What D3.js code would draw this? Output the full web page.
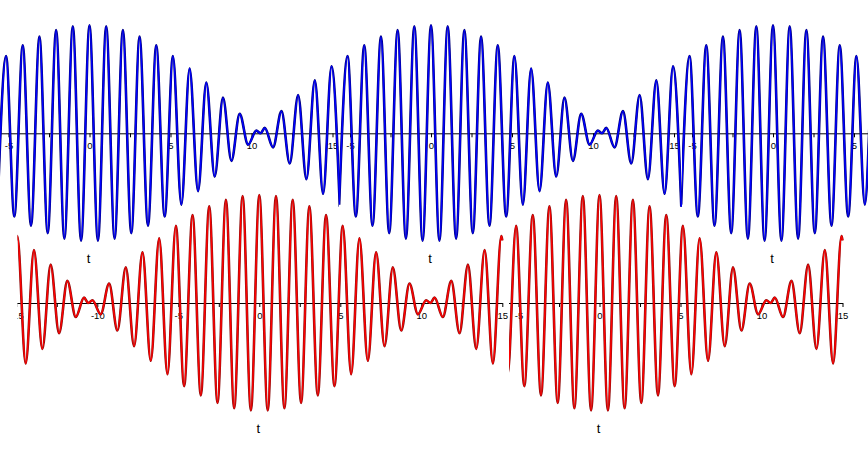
<!DOCTYPE html>
<html><head><meta charset="utf-8">
<script src="https://cdn.jsdelivr.net/npm/d3@7"></script>
<style>html,body{margin:0;padding:0;background:#fff;} svg{display:block;}</style>
</head><body>
<script>
// Extrema (t, value) of the beat signal
const blueT = [-5.67,-5.15,-4.64,-4.12,-3.61,-3.09,-2.58,-2.06,-1.55,-1.03,-0.52,0,
  0.52,1.03,1.55,2.06,2.58,3.09,3.61,4.12,4.64,5.15,5.67,6.18,6.70,7.21,7.73,8.24,
  8.76,9.27,9.79,10.30,10.56,10.82,11.33,11.85,12.36,12.88,13.39,13.91,14.42,14.94,15.45];
const blueV = [-1.32,1.43,-1.54,1.63,-1.71,1.79,-1.85,1.91,-1.95,1.98,-1.99,2.00,
  -1.99,1.98,-1.95,1.91,-1.85,1.79,-1.71,1.63,-1.54,1.43,-1.32,1.20,-1.07,0.94,-0.80,0.66,
  -0.51,0.36,-0.21,0.05,0.00,0.10,-0.26,0.41,-0.56,0.71,-0.85,0.98,-1.12,1.24,-1.36];

const redT = [-15,-14.94,-14.42,-13.91,-13.39,-12.88,-12.36,-11.85,-11.33,-10.82,-10.56,-10.30,
  -9.79,-9.27,-8.76,-8.24,-7.73,-7.21,-6.70,-6.18,-5.67,-5.15,-4.64,-4.12,-3.61,-3.09,-2.58,
  -2.06,-1.55,-1.03,-0.52,0,0.52,1.03,1.55,2.06,2.58,3.09,3.61,4.12,4.64,5.15,5.67,6.18,6.70,
  7.21,7.73,8.24,8.76,9.27,9.79,10.30,10.56,10.82,11.33,11.85,12.36,12.88,13.39,13.91,14.42,14.94,15];
const redV = [1.16,1.24,-1.12,0.98,-0.85,0.71,-0.56,0.41,-0.26,0.10,0.00,0.05,
  -0.21,0.36,-0.51,0.66,-0.80,0.94,-1.07,1.20,-1.32,1.43,-1.54,1.63,-1.71,1.79,-1.85,
  1.91,-1.95,1.98,-1.99,2.00,-1.99,1.98,-1.95,1.91,-1.85,1.79,-1.71,1.63,-1.54,1.43,-1.32,1.20,-1.07,
  0.94,-0.80,0.66,-0.51,0.36,-0.21,0.05,0.00,0.10,-0.26,0.41,-0.56,0.71,-0.85,0.98,-1.12,1.24,1.16];

const blueTicks = [-5,-2.5,0,2.5,5,7.5,10,12.5,15];
const redTicks = [-15,-12.5,-10,-7.5,-5,-2.5,0,2.5,5,7.5,10,12.5,15];
const labelEvery = 5;
const axisTitle = "t";

const W = 868, H = 461;
const PX = 16.2, AMP = 54;

const svg = d3.select("body").append("svg").attr("width", W).attr("height", H);
svg.append("rect").attr("width", W).attr("height", H).attr("fill", "#fff");

const panels = [
  {T: blueT, V: blueV, ticks: blueTicks, dom: [-5.75, 15.5], zero: 89.5, axisY: 133.3, clip: [0, 339], c1: "#00007a", c2: "#0000ff"},
  {T: blueT, V: blueV, ticks: blueTicks, dom: [-5.75, 15.5], zero: 431, axisY: 133.3, clip: [339, 682], c1: "#00007a", c2: "#0000ff"},
  {T: blueT, V: blueV, ticks: blueTicks, dom: [-5.75, 15.5], zero: 773, axisY: 133.3, clip: [682, 868], c1: "#00007a", c2: "#0000ff"},
  {T: redT, V: redV, ticks: redTicks, dom: [-15, 15], zero: 259.3, axisY: 303, clip: [17.5, 509], c1: "#8a1010", c2: "#ff0000"},
  {T: redT, V: redV, ticks: redTicks, dom: [-15, 15], zero: 599.5, axisY: 303, clip: [509, 868], c1: "#8a1010", c2: "#ff0000"}
];

const defs = svg.append("defs");
panels.forEach((p, i) => {
  defs.append("clipPath").attr("id", "cp" + i)
    .append("rect").attr("x", p.clip[0]).attr("y", 0)
    .attr("width", p.clip[1] - p.clip[0]).attr("height", H);

  const x = d3.scaleLinear().domain(p.dom)
    .range([p.zero + p.dom[0] * PX, p.zero + p.dom[1] * PX]);
  const y = d3.scaleLinear().domain([-2, 2]).range([p.axisY + 2 * AMP, p.axisY - 2 * AMP]);

  // only ticks whose label can show in the visible part of the panel
  const visTicks = p.ticks.filter(v => x(v) >= p.clip[0] - 8 && x(v) <= p.clip[1] + 2);

  const g = svg.append("g").attr("clip-path", `url(#cp${i})`);

  const axis = d3.axisBottom(x).tickValues(visTicks).tickSize(4).tickSizeOuter(0).tickPadding(5)
    .tickFormat(d => (d % labelEvery === 0) ? String(d) : "");
  const ag = g.append("g").attr("transform", `translate(0,${p.axisY})`).call(axis);
  ag.select(".domain").attr("stroke", "#000").attr("stroke-width", 1);
  ag.selectAll(".tick line").attr("stroke", "#000");
  ag.selectAll(".tick text").filter(function() { return this.textContent === ""; }).remove();
  ag.selectAll(".tick text").attr("fill", "#000")
    .style("font-family", "'Liberation Sans', Arial, sans-serif").style("font-size", "9.5px");

  const data = p.T.map((t, j) => [t, p.V[j]]);
  const line = d3.line().x(d => x(d[0])).y(d => y(d[1])).curve(d3.curveMonotoneX);
  g.append("path").datum(data).attr("d", line).attr("fill", "none")
    .attr("stroke", p.c1).attr("stroke-width", 2.6).attr("stroke-linejoin", "round");
  g.append("path").datum(data).attr("d", line).attr("fill", "none")
    .attr("stroke", p.c2).attr("stroke-width", 1.5).attr("stroke-linejoin", "round");

  g.append("text").attr("x", x(0) - 1).attr("y", p.axisY + 130)
    .attr("text-anchor", "middle")
    .style("font-family", "'Liberation Sans', Arial, sans-serif").style("font-size", "13px")
    .text(axisTitle);
});
</script>
</body></html>
